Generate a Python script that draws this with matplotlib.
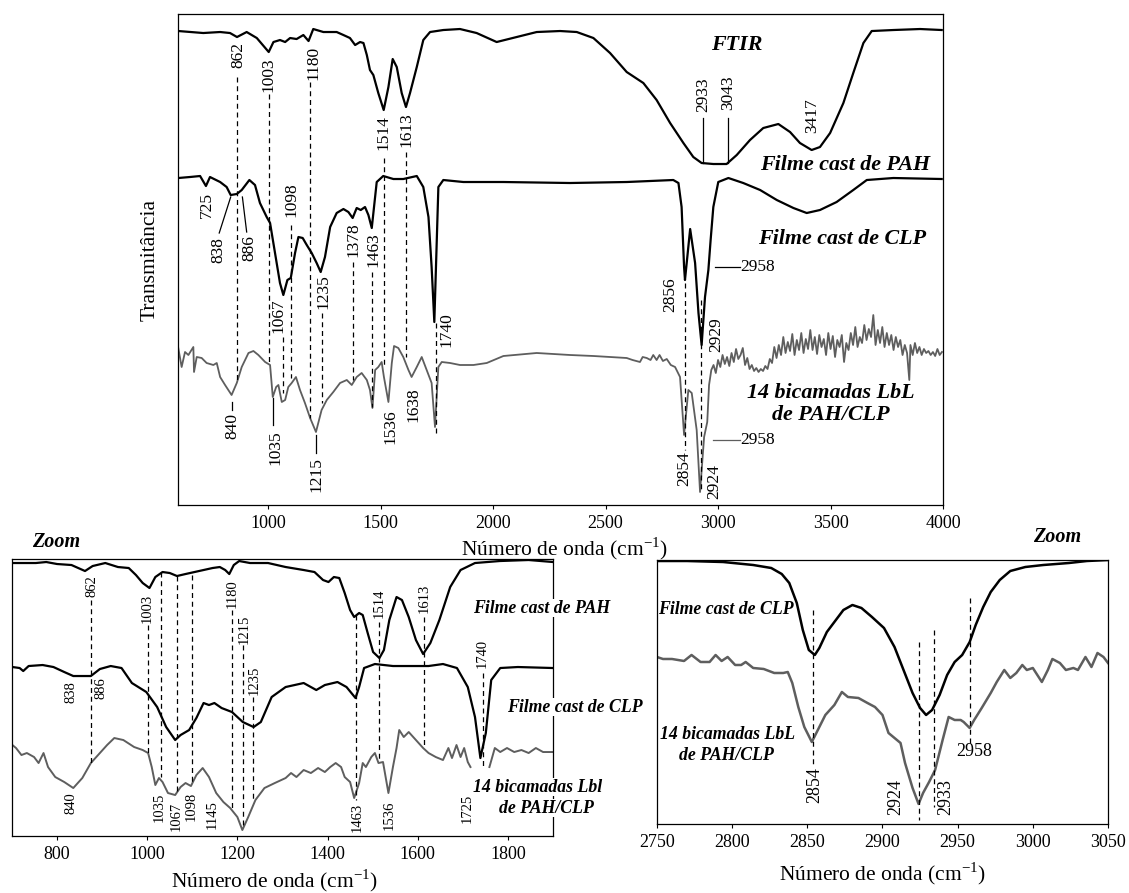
import numpy as np
import matplotlib
matplotlib.use("Agg")
import matplotlib.pyplot as plt

plt.rcParams['font.family'] = ['Liberation Serif', 'DejaVu Serif']
plt.rcParams['mathtext.fontset'] = 'custom'
plt.rcParams['mathtext.rm'] = 'Liberation Serif'

# ---------------- top panel (600-4000 cm-1), transmittance in arbitrary units
pah_w = [601, 712, 787, 831, 862, 905, 950, 1003, 1024, 1053, 1076, 1098, 1127, 1157, 1180,
         1201, 1246, 1305, 1335, 1364, 1387, 1409, 1424, 1439, 1453, 1468, 1490, 1514, 1535,
         1554, 1572, 1594, 1613, 1631, 1661, 1690, 1720, 1779, 1853, 1927, 2016, 2105, 2194,
         2298, 2372, 2446, 2520, 2594, 2668, 2727, 2787, 2846, 2890, 2927, 2979, 3038, 3083,
         3142, 3201, 3268, 3320, 3364, 3416, 3453, 3498, 3557, 3601, 3646, 3683, 3779, 3898, 3994]
pah_t = [474, 472, 473, 472, 468, 473, 467, 453, 463, 465, 463, 467, 466, 470, 464,
         476, 473, 473, 470, 467, 460, 463, 462, 450, 435, 430, 412, 395, 418,
         446, 438, 412, 398, 412, 438, 465, 473, 475, 476, 472, 463, 468, 473,
         474, 473, 467, 452, 433, 422, 405, 382, 362, 348, 342, 341, 341, 350,
         365, 377, 381, 373, 362, 355, 358, 372, 402, 432, 462, 474, 475, 476, 475]

clp_w = [601, 653, 698, 724, 742, 787, 816, 834, 861, 883, 917, 942, 964, 994, 1009, 1031,
         1053, 1068, 1086, 1101, 1120, 1135, 1154, 1172, 1194, 1216, 1234, 1253, 1276, 1305,
         1335, 1357, 1376, 1394, 1412, 1431, 1446, 1461, 1471, 1483, 1512, 1557, 1601, 1661,
         1690, 1713, 1727, 1739, 1757, 1779, 1868, 2046, 2342, 2594, 2801, 2824, 2838, 2849,
         2853, 2876, 2898, 2913, 2927, 2942, 2957, 2967, 2979, 3001, 3046, 3112, 3187, 3261,
         3335, 3394, 3453, 3527, 3601, 3661, 3779, 3994]
clp_t = [327, 328, 329, 319, 328, 323, 318, 310, 311, 315, 325, 320, 302, 288, 282, 252,
         222, 210, 225, 227, 252, 268, 267, 260, 252, 242, 233, 248, 278, 292,
         296, 293, 287, 297, 295, 298, 290, 277, 298, 323, 329, 326, 326, 329,
         318, 288, 238, 183, 318, 325, 323, 323, 322, 323, 325, 322, 298, 238,
         225, 276, 242, 192, 160, 208, 235, 265, 298, 323, 327, 322, 315, 305,
         297, 292, 295, 303, 315, 325, 327, 326]

lbl_w = [601, 616, 631, 646, 668, 671, 683, 705, 727, 757, 772, 787, 809, 838, 861, 883,
         913, 935, 957, 987, 1009, 1021, 1036, 1046, 1061, 1076, 1090, 1105, 1124, 1142,
         1164, 1187, 1213, 1238, 1261, 1290, 1320, 1350, 1372, 1394, 1416, 1439, 1453, 1464,
         1476, 1490, 1505, 1515, 1535, 1550, 1560, 1579, 1601, 1624, 1638, 1661, 1683, 1705,
         1727, 1742, 1757, 1772, 1809, 1853, 1913, 1972, 2046, 2194, 2342, 2446, 2594, 2620,
         2653, 2665, 2683, 2700, 2712, 2727, 2740, 2755, 2772, 2790, 2809, 2831, 2849, 2868,
         2883, 2905, 2920, 2938, 2952,
         2960, 2970, 2980, 2990, 3000, 3010, 3020, 3030, 3040, 3050, 3060, 3070, 3080, 3090,
         3100, 3110, 3120, 3130, 3140, 3150, 3160, 3170, 3180, 3190, 3200, 3210, 3220, 3230,
         3240, 3250, 3260, 3270, 3280, 3290, 3300, 3310, 3320, 3330, 3340, 3350, 3360, 3370,
         3380, 3390, 3400, 3410, 3420, 3430, 3440, 3450, 3460, 3470, 3480, 3490, 3500, 3510,
         3520, 3530, 3540, 3550, 3560, 3570, 3580, 3590, 3600, 3610, 3620, 3630, 3640, 3650,
         3660, 3670, 3680, 3690, 3700, 3710, 3720, 3730, 3740, 3750, 3760, 3770, 3780, 3790,
         3800, 3810, 3820, 3830, 3840, 3850, 3855, 3865, 3875, 3885, 3895, 3905, 3915, 3925,
         3935, 3945, 3955, 3965, 3975, 3985, 3995]
lbl_t = [157, 138, 153, 150, 158, 133, 148, 147, 142, 140, 142, 128, 120, 110, 122, 138,
         152, 154, 150, 143, 140, 108, 118, 120, 103, 105, 118, 122, 128, 115,
         102, 87, 73, 95, 105, 113, 122, 125, 120, 128, 132, 125, 115, 97,
         135, 138, 143, 128, 103, 142, 159, 157, 148, 135, 128, 138, 148, 135,
         122, 78, 138, 143, 142, 140, 140, 142, 149, 152, 150, 149, 147, 145,
         143, 148, 147, 145, 150, 145, 150, 144, 146, 140, 138, 128, 70, 115,
         112, 75, 13, 68, 83,
         120, 135, 140, 132, 145, 138, 150, 141, 148, 139, 152, 143, 156, 146,
         150, 157, 140, 147, 136, 140, 134, 137, 133, 136, 134, 139, 136, 146,
         142, 158, 147, 160, 150, 168, 152, 163, 154, 171, 150, 165, 155, 172,
         152, 166, 156, 175, 155, 168, 151, 170, 158, 166, 150, 172, 156, 169,
         148, 165, 158, 170, 143, 162, 155, 172, 160, 178, 158, 168, 162, 180,
         165, 176, 168, 190, 160, 175, 162, 178, 158, 172, 160, 170, 155, 168,
         158, 165, 150, 160, 152, 125, 160, 150, 162, 152, 158, 150, 156, 152,
         154, 150, 153, 149, 156, 150, 153]

# ---------------- bottom-left zoom (700-1900 cm-1)
pah_z1_w = [701, 753, 776, 800, 832, 862, 879, 907, 935, 959, 975, 990, 1005, 1018, 1034,
            1050, 1066, 1085, 1105, 1125, 1145, 1161, 1173, 1182, 1192, 1204, 1228, 1268,
            1307, 1347, 1371, 1390, 1402, 1414, 1426, 1438, 1450, 1459, 1470, 1478, 1489,
            1501, 1515, 1525, 1537, 1553, 1565, 1580, 1596, 1612, 1628, 1648, 1672, 1695,
            1727, 1782, 1846, 1900]
pah_z1_t = [273, 273, 274, 272, 271, 265, 270, 273, 269, 268, 261, 253, 248, 259, 264,
            263, 260, 262, 264, 266, 268, 269, 266, 262, 271, 275, 273, 273,
            269, 266, 264, 256, 254, 259, 258, 243, 226, 219, 223, 221, 203,
            184, 178, 186, 216, 239, 236, 219, 196, 182, 193, 216, 249, 266,
            273, 275, 276, 274]

clp_z1_w = [701, 717, 725, 737, 768, 792, 816, 836, 875, 895, 919, 943, 966, 998, 1022,
            1042, 1062, 1074, 1093, 1109, 1125, 1137, 1149, 1165, 1188, 1212, 1236, 1252,
            1276, 1307, 1347, 1375, 1394, 1422, 1442, 1462, 1470, 1481, 1505, 1545, 1624,
            1656, 1687, 1711, 1727, 1739, 1751, 1763, 1783, 1822, 1900]
clp_z1_t = [169, 168, 165, 170, 171, 169, 164, 160, 160, 167, 170, 168, 153, 144, 129,
            109, 96, 101, 106, 118, 133, 131, 133, 128, 124, 114, 109, 114,
            139, 149, 153, 146, 151, 154, 149, 138, 149, 168, 172, 170, 170,
            172, 168, 149, 119, 78, 103, 156, 168, 169, 168]

lbl_z1_w = [701, 709, 721, 733, 749, 759, 770, 780, 796, 816, 836, 856, 875, 895, 911, 927,
            947, 971, 990, 1002, 1010, 1018, 1026, 1034, 1046, 1062, 1074, 1085, 1097, 1109,
            1123, 1137, 1153, 1169, 1184, 1200, 1211, 1224, 1240, 1260, 1283, 1307, 1319,
            1331, 1347, 1363, 1379, 1394, 1406, 1418, 1430, 1438, 1450, 1459, 1470, 1478,
            1485, 1497, 1505, 1513, 1523, 1535, 1545, 1553, 1559, 1569, 1580, 1596, 1612,
            1624, 1640, 1656, 1668, 1676, 1686, 1695, 1703, 1711, 1717, 1738, 1759, 1771,
            1783, 1798, 1814, 1830, 1846, 1862, 1878, 1900]
lbl_z1_t = [91, 88, 81, 83, 79, 73, 83, 69, 59, 54, 48, 58, 73, 83, 91, 98,
            96, 89, 86, 83, 69, 51, 58, 54, 43, 41, 49, 53, 50, 61,
            68, 59, 43, 34, 28, 19, 6, 19, 36, 48, 53, 58, 63,
            59, 66, 63, 68, 64, 69, 73, 69, 59, 54, 38, 53, 73,
            69, 79, 83, 73, 74, 43, 69, 88, 106, 99, 104, 96, 88,
            83, 79, 76, 88, 78, 91, 79, 88, 74, 69, np.nan, 69, 88,
            84, 88, 84, 86, 83, 88, 84, 84]

# ---------------- bottom-right zoom (2750-3050 cm-1)
clp_z2_w = [2750, 2770, 2794, 2814, 2826, 2833, 2838, 2843, 2847, 2851, 2855, 2858, 2863,
            2868, 2874, 2880, 2886, 2893, 2901, 2908, 2914, 2920, 2925, 2929, 2933, 2938,
            2943, 2948, 2953, 2958, 2962, 2967, 2972, 2978, 2985, 2995, 3007, 3024, 3036, 3050]
clp_z2_t = [263, 263, 262, 259, 256, 250, 241, 221, 194, 174, 169, 176, 192,
            202, 214, 219, 216, 207, 196, 177, 154, 131, 116, 109, 114, 129,
            149, 162, 169, 182, 199, 217, 232, 244, 253, 257, 259, 261, 263, 264]

lbl_z2_w = [2750, 2754, 2760, 2768, 2773, 2779, 2785, 2789, 2793, 2797, 2802, 2806, 2809,
            2814, 2821, 2828, 2834, 2837, 2840, 2844, 2848, 2853, 2857, 2862, 2868, 2873,
            2877, 2884, 2890, 2895, 2900, 2904, 2912, 2915, 2920, 2924, 2927, 2931, 2935,
            2940, 2944, 2948, 2952, 2954, 2958, 2961, 2966, 2972, 2976, 2981, 2985, 2989,
            2993, 2996, 3000, 3006, 3010, 3013, 3018, 3022, 3027, 3030, 3035, 3039, 3043,
            3047, 3050]
lbl_z2_t = [167, 165, 165, 163, 169, 162, 162, 169, 163, 167, 159, 159, 162,
            156, 155, 151, 151, 152, 141, 117, 97, 82, 94, 109, 119, 132,
            127, 126, 121, 117, 109, 91, 81, 61, 36, 20, 31, 42, 54,
            84, 107, 104, 104, 102, 96, 104, 116, 131, 142, 154, 146, 151,
            159, 154, 156, 142, 154, 165, 161, 154, 156, 154, 167, 157, 171,
            167, 161]

# peak marker lines: (wavenumber, from, to)
top_dashed = [(861, 428, 125), (1003, 411, 142), (1187, 423, 87), (1514, 347, 138),
              (1613, 353, 148), (1101, 280, 127), (1068, 168, 112), (1239, 192, 102),
              (1379, 243, 125), (1464, 233, 98), (1745, 182, 72), (2853, 222, 55),
              (2923, 205, 15)]
top_solid = [(2933, 387, 342), (3043, 387, 342), (840, 103, 95), (1021, 107, 80), (1213, 70, 52)]
# rotated labels (text, wavenumber, level)
top_labels = [("862", 866, 450), ("1003", 1004, 430), ("1180", 1200, 442), ("1514", 1512, 372),
              ("1613", 1616, 375), ("2933", 2935, 410), ("3043", 3046, 412), ("3417", 3419, 389),
              ("725", 727, 300), ("838", 779, 255), ("886", 917, 257), ("1098", 1105, 305),
              ("1378", 1379, 265), ("1463", 1468, 255), ("1067", 1046, 189), ("1235", 1246, 213),
              ("1740", 1794, 175), ("2856", 2787, 210), ("2929", 2990, 170), ("840", 841, 79),
              ("1035", 1031, 57), ("1215", 1216, 30), ("1536", 1542, 78), ("1638", 1646, 100),
              ("2854", 2849, 36), ("2924", 2982, 23)]

z1_dashed = [(875, 236, 73), (1001, 211, 83), (1030, 264, 59), (1066, 260, 43), (1100, 261, 53),
             (1188, 226, 28), (1212, 191, 8), (1234, 139, 34), (1462, 221, 36), (1515, 214, 76),
             (1614, 219, 88), (1745, 163, 69)]
z1_labels = [("862", 877, 250), ("1003", 1000, 228), ("1180", 1188, 242), ("1215", 1215, 207),
             ("1235", 1237, 156), ("1514", 1515, 233), ("1613", 1614, 238), ("1740", 1743, 183),
             ("838", 832, 144), ("886", 897, 148), ("840", 832, 33), ("1035", 1026, 29),
             ("1067", 1065, 20), ("1098", 1097, 30), ("1145", 1145, 21), ("1463", 1466, 19),
             ("1536", 1537, 21), ("1725", 1710, 28)]

z2_dashed = [(2854, 214, 57), (2924, 182, 4), (2934, 194, 17), (2958, 226, 81)]
z2_labels = [("2854", 2855, 39), ("2924", 2909, 27), ("2933", 2942, 27)]

black = "black"
gray = "#5e5e5e"
dash = (4, 3)

fig = plt.figure(figsize=(11.29, 8.93), dpi=100)
ax = fig.add_axes([0.1577, 0.4345, 0.6776, 0.5498])
ax1 = fig.add_axes([0.0106, 0.0638, 0.4792, 0.3102])
ax2 = fig.add_axes([0.5819, 0.0773, 0.3995, 0.2956])

# ---- top
ax.plot(pah_w, pah_t, color=black, lw=1.6)
ax.plot(clp_w, clp_t, color=black, lw=1.6)
ax.plot(lbl_w, lbl_t, color=gray, lw=1.3)
for w, a, b in top_dashed:
    ax.plot([w, w], [a, b], color=black, lw=0.9, ls=(0, dash))
for w, a, b in top_solid:
    ax.plot([w, w], [a, b], color=black, lw=0.9)
ax.plot([783, 834], [272, 308], color=black, lw=0.9)
ax.plot([905, 886], [273, 308], color=black, lw=0.9)
ax.plot([2986, 3097], [238, 238], color=black, lw=0.9)
ax.plot([2977, 3097], [65, 65], color=gray, lw=0.9)
for s, w, v in top_labels:
    ax.text(w, v, s, rotation=90, ha='center', va='center', fontsize=12.5)
ax.text(3100, 238, "2958", ha='left', va='center', fontsize=12.5)
ax.text(3100, 65, "2958", ha='left', va='center', fontsize=12.5)
lab = dict(fontsize=15.8, fontweight='bold', fontstyle='italic', ha='center', va='center')
ax.text(3084, 460, "FTIR", **lab)
ax.text(3564, 340, "Filme cast de PAH", **lab)
ax.text(3551, 266, "Filme cast de CLP", **lab)
ax.text(3500, 112, "14 bicamadas LbL", **lab)
ax.text(3502, 90, "de PAH/CLP", **lab)
ax.set_xlim(600, 4000)
ax.set_ylim(0, 491)
ax.set_xticks([1000, 1500, 2000, 2500, 3000, 3500, 4000])

# ---- bottom left
ax1.plot(pah_z1_w, pah_z1_t, color=black, lw=1.6)
ax1.plot(clp_z1_w, clp_z1_t, color=black, lw=1.6)
ax1.plot(lbl_z1_w, lbl_z1_t, color=gray, lw=1.4)
for w, a, b in z1_dashed:
    ax1.plot([w, w], [a, b], color=black, lw=0.9, ls=(0, dash))
for s, w, v in z1_labels:
    ax1.text(w, v, s, rotation=90, ha='center', va='center', fontsize=10.5)
lab1 = dict(fontsize=12.8, fontweight='bold', fontstyle='italic', va='center',
            bbox=dict(facecolor='white', edgecolor='none', pad=0.5), clip_on=False, zorder=5)
ax1.text(1722, 228, "Filme cast de PAH", ha='left', **lab1)
ax1.text(1797, 129, "Filme cast de CLP", ha='left', **lab1)
ax1.text(1722, 49, "14 bicamadas Lbl", ha='left', **lab1)
ax1.text(1885, 28, "de PAH/CLP", ha='center', **lab1)
ax1.set_xlim(700, 1900)
ax1.set_ylim(0, 277)
ax1.set_xticks([800, 1000, 1200, 1400, 1600, 1800])

# ---- bottom right
ax2.plot(clp_z2_w, clp_z2_t, color=black, lw=1.8)
ax2.plot(lbl_z2_w, lbl_z2_t, color=gray, lw=1.8)
for w, a, b in z2_dashed:
    ax2.plot([w, w], [a, b], color=black, lw=0.9, ls=(0, dash))
for s, w, v in z2_labels:
    ax2.text(w, v, s, rotation=90, ha='center', va='center', fontsize=13)
ax2.text(2961, 72, "2958", ha='center', va='center', fontsize=13)
lab2 = dict(fontsize=12.8, fontweight='bold', fontstyle='italic', va='center')
ax2.text(2751, 214, "Filme cast de CLP", ha='left', **lab2)
ax2.text(2797, 89, "14 bicamadas LbL", ha='center', **lab2)
ax2.text(2796, 68, "de PAH/CLP", ha='center', **lab2)
ax2.set_xlim(2750, 3050)
ax2.set_ylim(0, 264)
ax2.set_xticks([2750, 2800, 2850, 2900, 2950, 3000, 3050])

for a in (ax, ax1, ax2):
    a.set_yticks([])
    a.tick_params(axis='x', direction='out', length=3, width=0.8, labelsize=13, pad=4)
    for sp in a.spines.values():
        sp.set_linewidth(0.9)

fig.text(0.133, 0.709, "Transmitância", rotation=90, ha='center', va='center', fontsize=15.5)
fig.text(0.5, 0.386, "Número de onda (cm$^{-1}$)", ha='center', va='center', fontsize=15.5)
fig.text(0.2435, 0.014, "Número de onda (cm$^{-1}$)", ha='center', va='center', fontsize=15.5)
fig.text(0.782, 0.022, "Número de onda (cm$^{-1}$)", ha='center', va='center', fontsize=15.5)
fig.text(0.028, 0.393, "Zoom", ha='left', va='center', fontsize=14.5, fontweight='bold', fontstyle='italic')
fig.text(0.915, 0.399, "Zoom", ha='left', va='center', fontsize=14.5, fontweight='bold', fontstyle='italic')

fig.savefig("out.png", dpi=100)
